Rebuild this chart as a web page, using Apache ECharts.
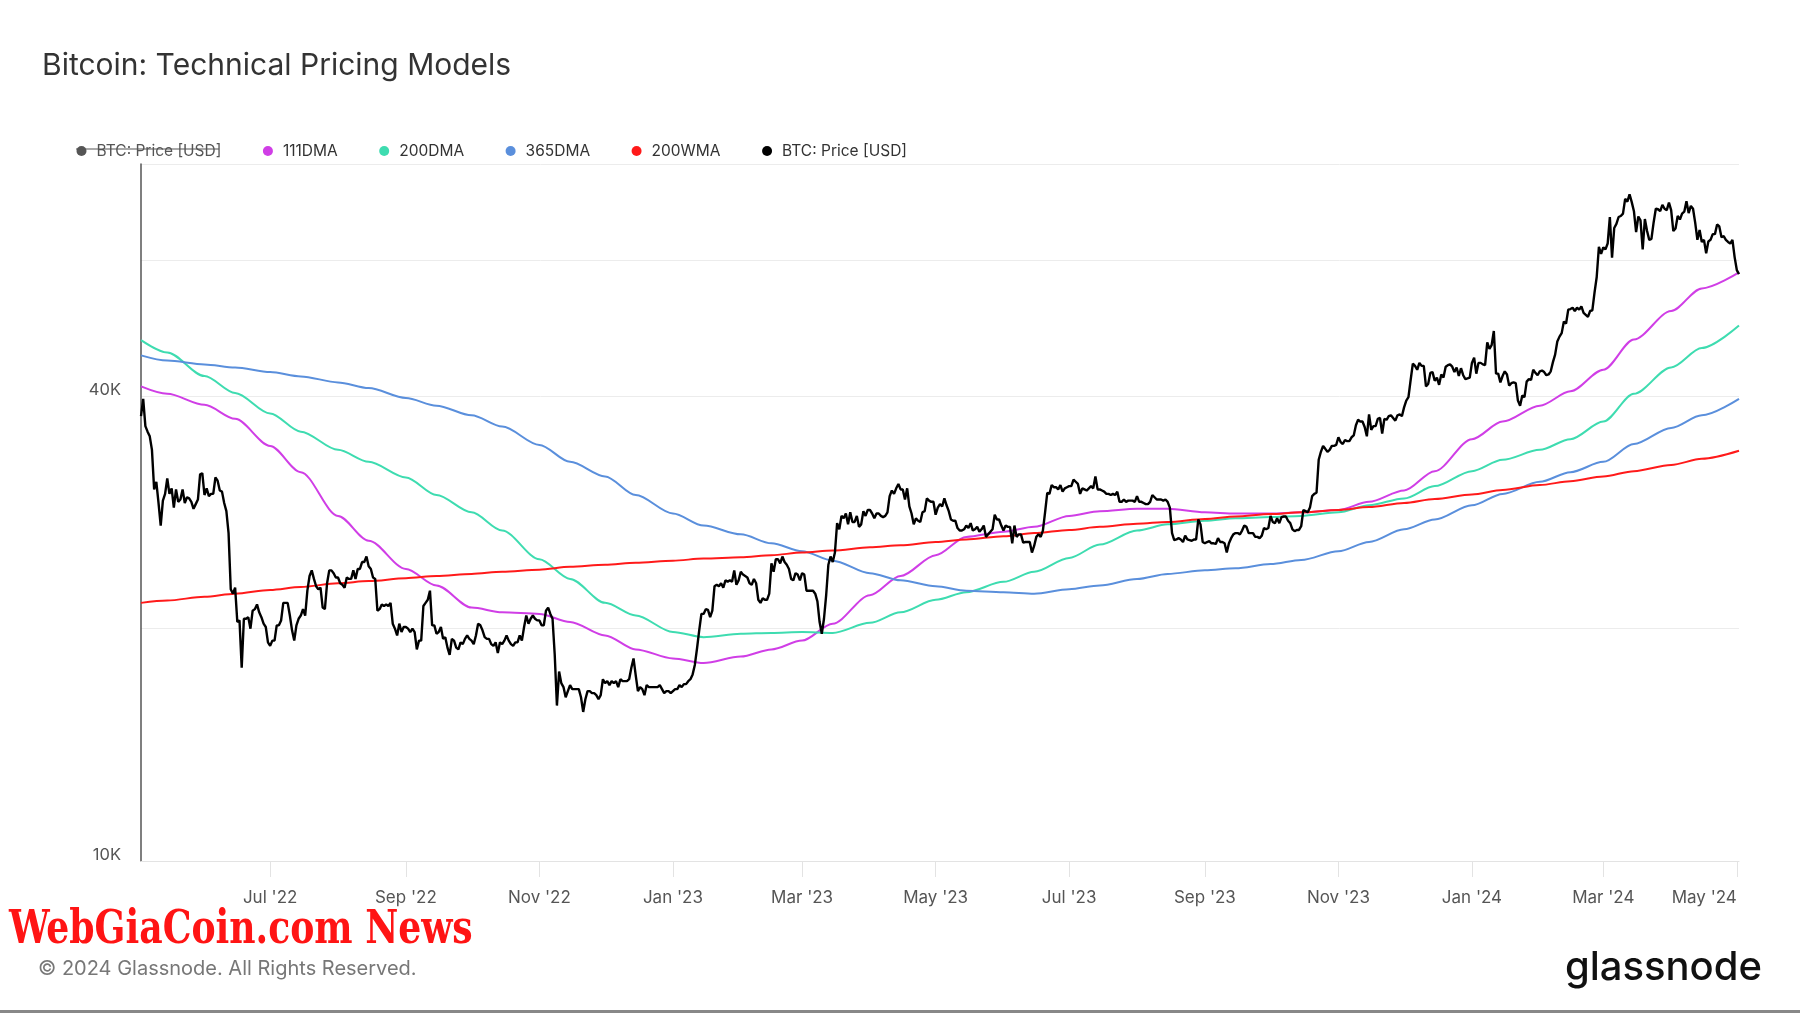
<!DOCTYPE html>
<html><head><meta charset="utf-8">
<script src="https://cdn.jsdelivr.net/npm/echarts@6/dist/echarts.min.js"></script>
<style>html,body{margin:0;padding:0;background:#fff}#c{width:1800px;height:1013px}</style>
</head><body><div id="c"></div><script>
// ---------- DATA (BTC price in thousand USD, daily from 2022-05-03) ----------
const priceStart = '2022-05-03';
const price2022 = [
 37.7,39.7,36.6,36.0,35.5,34.1,30.3,31.0,29.1,27.2,29.3,29.9,31.3,29.9,30.4,28.7,30.3,29.2,29.4,30.3,29.1,29.6,29.5,29.2,28.6,29.0,29.4,31.7,31.8,
 29.8,30.4,29.7,29.9,29.9,31.4,31.1,30.2,30.1,29.1,28.4,26.6,22.5,22.2,22.6,20.4,20.5,17.8,20.6,20.6,20.7,20.0,21.1,21.2,21.5,21.0,20.7,20.3,20.1,19.2,
 19.0,19.3,19.3,20.2,20.2,20.5,21.6,21.6,21.6,20.8,19.9,19.3,20.2,20.6,20.8,21.2,20.8,22.4,23.4,23.8,23.2,22.7,22.5,22.6,21.3,21.2,22.9,23.8,23.8,23.6,23.3,
 23.3,22.9,22.8,22.6,23.3,23.2,23.2,23.8,23.2,23.9,23.9,24.4,24.4,24.8,24.1,23.9,23.3,23.2,21.1,21.2,21.5,21.4,21.5,21.4,21.6,20.3,20.0,19.6,20.3,19.8,20.1,
 20.1,20.0,19.8,20.0,19.8,18.8,19.3,19.3,21.4,21.6,21.8,22.4,20.2,20.2,19.7,19.8,20.1,19.4,19.5,18.9,18.5,19.4,19.3,18.9,18.8,19.2,19.1,19.4,19.6,19.4,
 19.3,19.1,19.6,20.3,20.2,19.9,19.5,19.4,19.4,19.1,19.0,19.2,18.6,19.2,19.1,19.3,19.6,19.3,19.1,19.0,19.2,19.2,19.6,19.3,20.1,20.8,20.3,20.6,20.8,20.6,20.5,
 20.5,20.2,20.2,21.1,21.3,20.9,20.6,18.5,15.9,17.6,17.0,16.8,16.3,16.6,16.9,16.7,16.7,16.7,16.7,16.3,15.6,16.2,16.6,16.6,16.5,16.5,16.4,16.2,16.4,17.2,
 17.0,17.1,16.9,17.1,17.0,17.1,16.8,17.2,17.1,17.1,17.1,17.2,17.8,18.3,17.4,16.6,16.8,16.7,16.4,16.9,16.8,16.8,16.8,16.8,16.8,16.9,16.7,16.5,16.6,16.6,16.5
];
const price2023 = [
 16.6,16.7,16.7,16.9,16.8,16.95,16.95,17.1,17.2,17.45,17.95,18.85,19.9,20.9,20.9,21.2,21.15,20.7,21.1,22.7,22.8,22.7,22.9,22.6,23.1,23.0,23.1,23.0,23.8,22.8,23.1,
 23.7,23.5,23.4,23.3,22.9,22.8,23.2,22.9,21.8,21.6,21.9,21.8,21.8,22.2,24.3,23.7,24.6,24.6,24.3,24.8,24.4,24.2,23.9,23.2,23.1,23.6,23.5,23.1,
 23.6,23.5,22.4,22.4,22.4,22.4,22.2,21.7,20.4,19.7,20.6,22.1,24.2,24.8,24.4,25.1,27.4,26.9,28.0,27.8,28.2,27.3,28.3,27.5,27.5,28.0,27.1,27.3,28.4,28.0,28.5,
 28.5,28.2,27.8,28.2,28.2,28.0,27.9,28.0,28.3,29.7,30.2,29.9,30.4,30.8,30.3,30.3,29.4,30.4,28.8,28.2,27.3,27.8,27.6,27.5,28.3,28.4,29.5,29.3,29.2,29.2,
 28.1,28.7,29.0,28.8,29.5,28.9,28.4,27.7,27.6,27.6,27.0,26.8,26.8,26.9,27.2,27.0,27.4,26.8,26.9,27.1,26.7,26.9,27.2,26.3,26.5,26.7,26.9,28.1,27.7,27.7,27.2,
 26.8,27.2,27.1,27.1,25.8,27.2,26.3,26.5,26.5,25.85,25.9,25.9,25.9,25.1,25.6,26.3,26.5,26.3,26.8,28.3,30.0,29.9,30.7,30.5,30.5,30.3,30.7,30.1,30.4,30.5,
 30.6,30.6,31.2,31.0,30.8,29.9,30.4,30.3,30.2,30.4,30.6,30.4,31.5,30.3,30.3,30.2,30.1,29.9,29.9,29.8,29.9,29.8,30.1,29.2,29.2,29.4,29.2,29.3,29.3,29.3,29.2,
 29.7,29.2,29.2,29.1,29.0,29.0,29.2,29.8,29.6,29.4,29.4,29.4,29.3,29.4,29.2,28.7,26.6,26.05,26.1,26.2,26.1,25.9,26.4,26.1,26.05,26.0,26.1,26.1,27.7,27.3,25.9,
 25.8,25.9,25.97,25.8,25.8,25.75,26.2,25.9,25.9,25.8,25.1,25.8,26.2,26.5,26.6,26.6,26.5,26.8,27.2,27.1,26.6,26.6,26.6,26.3,26.3,26.2,26.4,27.0,26.9,27.0,
 28.0,27.5,27.4,27.8,27.4,27.9,27.95,27.95,27.6,27.4,26.9,26.75,26.85,26.85,27.15,28.5,28.4,28.3,28.7,29.7,29.9,30.0,33.1,33.9,34.5,34.2,33.9,34.1,34.5,34.5,34.6,
 35.4,34.9,34.7,35.1,35.0,35.0,35.4,35.6,36.7,37.3,37.1,37.1,36.5,35.5,37.9,36.2,36.6,36.6,37.4,37.5,35.8,37.4,37.3,37.7,37.8,37.5,37.2,37.8,37.9,37.7,
 38.7,39.5,39.9,42.0,44.1,43.8,43.3,44.2,43.8,43.8,41.2,41.5,42.9,43.0,41.9,42.3,41.4,42.7,42.3,43.7,43.9,44.0,43.7,43.0,43.6,42.5,43.5,42.6,42.1,42.2,42.3
];
const price2024 = [
 44.2,44.9,42.8,44.2,44.2,44.0,43.9,47.0,46.1,46.6,48.6,42.8,42.8,41.7,42.5,43.1,42.7,41.3,41.6,41.7,41.6,39.5,38.9,40.1,39.9,41.8,42.1,42.0,43.3,42.9,42.6,
 43.1,43.2,43.0,42.6,42.7,43.1,44.3,45.3,47.1,47.8,48.3,50.0,49.7,51.8,51.9,52.1,51.6,52.1,51.8,52.3,51.3,51.0,50.7,51.6,51.7,54.5,57.1,62.5,61.2,
 62.4,62.0,63.1,68.3,60.5,66.1,66.9,68.3,68.5,69.0,72.1,71.5,73.1,71.4,69.5,65.3,68.4,67.6,62.0,67.9,65.5,63.8,64.0,67.2,70.0,69.9,69.5,70.8,70.0,69.7,71.3,
 69.7,65.5,66.0,68.5,67.8,69.0,69.4,71.6,69.1,70.6,70.0,67.1,63.8,65.7,63.4,63.8,61.3,63.5,63.8,64.9,64.9,66.8,66.4,64.3,64.5,63.8,63.4,63.1,63.8,60.6,
 58.3,57.6
];

// moving averages (thousand USD), sampled on these dates
const maDates = ['2022-05-03','2022-05-15','2022-06-01','2022-06-15','2022-07-01','2022-07-15','2022-08-01','2022-08-15','2022-09-01','2022-09-15',
 '2022-10-01','2022-10-15','2022-11-01','2022-11-15','2022-12-01','2022-12-15','2023-01-01','2023-01-15','2023-02-01','2023-02-15',
 '2023-03-01','2023-03-15','2023-04-01','2023-04-15','2023-05-01','2023-05-15','2023-06-01','2023-06-15','2023-07-01','2023-07-15',
 '2023-08-01','2023-08-15','2023-09-01','2023-09-15','2023-10-01','2023-10-15','2023-11-01','2023-11-15','2023-12-01','2023-12-15',
 '2024-01-01','2024-01-15','2024-02-01','2024-02-15','2024-03-01','2024-03-15','2024-04-01','2024-04-15','2024-05-02'];
const dma111 = [41.2,40.3,39.0,37.4,34.5,31.9,28.0,26.0,23.9,22.75,21.3,21.0,20.9,20.4,19.6,18.8,18.3,18.05,18.4,18.8,
 19.3,20.3,22.1,23.4,24.9,26.3,26.7,27.1,28.0,28.4,28.6,28.6,28.3,28.2,28.2,28.3,28.5,29.2,30.2,32.0,
 35.2,37.1,38.9,40.6,43.3,47.4,51.6,55.2,57.9];
const dma200 = [47.3,45.6,42.5,40.4,38.0,36.0,34.1,32.9,31.4,29.8,28.3,26.8,24.6,23.2,21.6,20.8,19.8,19.5,19.7,19.75,
 19.8,19.75,20.35,21.0,21.8,22.3,23.0,23.7,24.7,25.7,26.8,27.3,27.6,27.8,27.9,28.0,28.3,28.9,29.5,30.6,
 32.0,33.1,34.1,35.2,37.1,40.3,43.6,46.2,49.4];
const dma365 = [45.2,44.5,44.0,43.6,43.0,42.45,41.7,41.0,39.8,38.9,37.8,36.55,34.6,32.9,31.5,29.8,28.2,27.2,26.5,25.8,
 25.2,24.5,23.6,23.1,22.7,22.4,22.3,22.2,22.5,22.75,23.2,23.55,23.8,23.95,24.25,24.55,25.2,25.9,26.9,27.7,
 28.9,29.9,31.0,31.9,32.9,34.7,36.4,37.8,39.7];
const wma200 = [21.6,21.75,22.0,22.2,22.45,22.65,22.9,23.05,23.25,23.4,23.55,23.7,23.85,24.05,24.2,24.35,24.5,24.65,24.75,24.9,
 25.1,25.25,25.5,25.65,25.9,26.1,26.35,26.6,26.85,27.1,27.35,27.5,27.75,27.95,28.15,28.3,28.5,28.75,29.1,29.45,
 29.85,30.25,30.7,31.05,31.5,32.0,32.6,33.2,34.0];

const xTickDates = ['2022-07-01','2022-09-01','2022-11-01','2023-01-01','2023-03-01','2023-05-01','2023-07-01','2023-09-01','2023-11-01','2024-01-01','2024-03-01','2024-05-01'];
const yGridValues = [10, 20, 40, 60, 80];
const yLabelValues = [10, 40];
const seriesNames = ['BTC: Price [USD] ', '111DMA', '200DMA', '365DMA', '200WMA', 'BTC: Price [USD]'];

// ---------- BUILD ----------
const DAY = 86400000;
const ts = s => { const p = s.split('-').map(Number); return Date.UTC(p[0], p[1]-1, p[2]); };
const allPrice = price2022.concat(price2023, price2024);
const t0 = ts(priceStart);
const priceData = allPrice.map((v, i) => [t0 + i * DAY, v]);
const maT = maDates.map(ts);
const pair = arr => arr.map((v, i) => [maT[i], v]);
const MONTHS = ['Jan','Feb','Mar','Apr','May','Jun','Jul','Aug','Sep','Oct','Nov','Dec'];
const FONT = 'Inter, "Noto Sans", sans-serif';
const xTicks = xTickDates.map(ts);

const chart = echarts.init(document.getElementById('c'), null, {renderer: 'canvas'});
const lineBase = { type: 'line', showSymbol: false, symbol: 'none', animation: false, lineStyle: { width: 2 } };
const maLine = (name, data, color) => Object.assign({}, lineBase, {
  name, data: pair(data), smooth: 0.3, smoothMonotone: 'x', color, lineStyle: { width: 2, color }
});

chart.setOption({
  animation: false,
  backgroundColor: '#fff',
  title: {
    text: 'Bitcoin: Technical Pricing Models',
    left: 37, top: 46,
    textStyle: { fontFamily: FONT, fontSize: 30, fontWeight: 400, color: '#333' }
  },
  legend: {
    data: seriesNames,
    left: 71.5, top: 138,
    icon: 'circle', itemWidth: 10, itemHeight: 10, itemGap: 41.5,
    textStyle: { fontFamily: FONT, fontSize: 15.5, color: '#333', padding: [0, 0, 0, 5] },
    inactiveColor: '#555',
    selected: { 'BTC: Price [USD] ': false },
    formatter: n => n.trim()
  },
  grid: { left: 141, right: 61, top: 164, bottom: 152, containLabel: false },
  xAxis: {
    type: 'value',
    min: priceData[0][0], max: priceData[priceData.length - 1][0],
    axisLine: { show: true, lineStyle: { color: '#e3e3e3', width: 1 } },
    axisTick: { show: true, length: 16, lineStyle: { color: '#e3e3e3' }, customValues: xTicks },
    axisLabel: {
      customValues: xTicks, margin: 28, alignMaxLabel: 'right',
      fontFamily: FONT, fontSize: 17, color: '#555',
      formatter: v => { const d = new Date(v); return MONTHS[d.getUTCMonth()] + " '" + String(d.getUTCFullYear()).slice(2); }
    },
    splitLine: { show: false }
  },
  yAxis: {
    type: 'log', logBase: 10, min: 10, max: 80,
    axisLine: { show: true, lineStyle: { color: '#555', width: 1.5 } },
    axisTick: { show: false, customValues: yGridValues },
    axisLabel: {
      customValues: yLabelValues, margin: 20, verticalAlign: 'bottom', lineHeight: 12,
      fontFamily: FONT, fontSize: 16.5, color: '#555',
      formatter: v => Math.round(v) + 'K'
    },
    splitLine: { show: true, lineStyle: { color: '#ececec', width: 1 } }
  },
  series: [
    Object.assign({}, lineBase, { name: seriesNames[0], data: priceData, color: '#555', lineStyle: { width: 2, color: '#555' } }),
    maLine('111DMA', dma111, '#d03ee6'),
    maLine('200DMA', dma200, '#3edcb0'),
    maLine('365DMA', dma365, '#5a8fdc'),
    maLine('200WMA', wma200, '#ff1a1a'),
    Object.assign({}, lineBase, { name: seriesNames[5], data: priceData, color: '#000', lineStyle: { width: 2.4, color: '#000' } })
  ],
  graphic: [
    { type: 'line', silent: true, z: 100, shape: { x1: 76, y1: 149, x2: 219, y2: 149 }, style: { stroke: '#555', lineWidth: 1.2 } },
    { type: 'text', silent: true, x: 9, y: 931, scaleX: 0.855,
      style: { text: 'WebGiaCoin.com News', fill: '#ff1414', verticalAlign: 'middle',
               font: 'bold 47px "DejaVu Serif Condensed", "DejaVu Serif", serif' } },
    { type: 'text', silent: true, left: 38, top: 959,
      style: { text: '© 2024 Glassnode. All Rights Reserved.', fill: '#777', font: '20px ' + FONT } },
    { type: 'text', silent: true, right: 38, top: 948,
      style: { text: 'glassnode', fill: '#111', font: '500 40px ' + FONT } },
    { type: 'rect', silent: true, left: 0, top: 1010, shape: { x: 0, y: 0, width: 1800, height: 3 }, style: { fill: '#888' } }
  ]
});
</script></body></html>
